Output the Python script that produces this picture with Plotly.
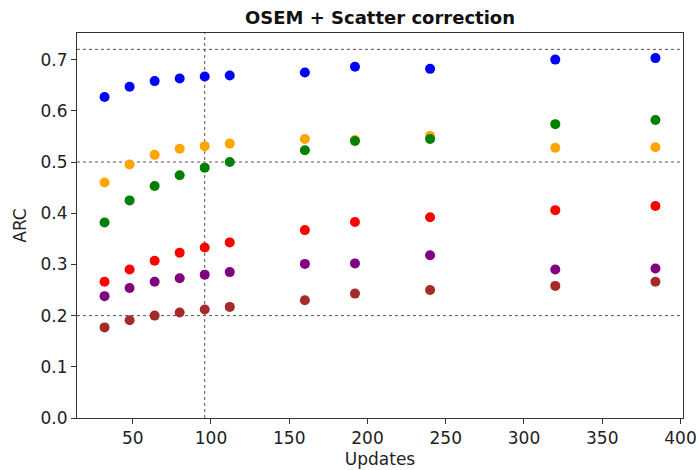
import plotly.graph_objects as go

updates = [32, 48, 64, 80, 96, 112, 160, 192, 240, 320, 384]
arc_blue = [0.627, 0.647, 0.658, 0.663, 0.667, 0.669, 0.675, 0.686, 0.682, 0.700, 0.703]
arc_orange = [0.460, 0.495, 0.514, 0.526, 0.531, 0.536, 0.545, 0.543, 0.551, 0.528, 0.529]
arc_green = [0.382, 0.425, 0.453, 0.474, 0.489, 0.500, 0.523, 0.541, 0.545, 0.574, 0.582]
arc_red = [0.266, 0.290, 0.307, 0.323, 0.333, 0.343, 0.367, 0.383, 0.392, 0.406, 0.414]
arc_purple = [0.238, 0.254, 0.266, 0.273, 0.280, 0.285, 0.301, 0.302, 0.318, 0.290, 0.292]
arc_brown = [0.177, 0.191, 0.200, 0.206, 0.212, 0.217, 0.230, 0.243, 0.250, 0.258, 0.266]

series = [
    (arc_blue, "blue"),
    (arc_orange, "orange"),
    (arc_green, "green"),
    (arc_red, "red"),
    (arc_purple, "purple"),
    (arc_brown, "brown"),
]

hlines = [0.2, 0.5, 0.72]
vlines = [96]

fig = go.Figure()
for vals, col in series:
    fig.add_trace(go.Scatter(x=updates, y=vals, mode="markers",
                             marker=dict(color=col, size=10, line=dict(width=0)),
                             showlegend=False))

for h in hlines:
    fig.add_hline(y=h, line=dict(color="#555555", width=1, dash="dot"), layer="below")
for v in vlines:
    fig.add_vline(x=v, line=dict(color="#555555", width=1, dash="dot"), layer="below")

axis_common = dict(showline=True, linecolor="#333333", linewidth=1, mirror=True,
                   ticks="outside", ticklen=5, tickcolor="#333333", showgrid=False,
                   zeroline=False, automargin=False,
                   tickfont=dict(family="DejaVu Sans", size=17, color="#222222"),
                   title_font=dict(family="DejaVu Sans", size=17, color="#222222"))

fig.update_xaxes(range=[14.4, 401.6], tickvals=[50, 100, 150, 200, 250, 300, 350, 400],
                 title_text="Updates", title_standoff=5, **axis_common)
fig.update_yaxes(range=[0, 0.752], tickvals=[0, 0.1, 0.2, 0.3, 0.4, 0.5, 0.6, 0.7],
                 tickformat=".1f", title_text="ARC", title_standoff=9, **axis_common)

fig.update_layout(
    width=699, height=470,
    margin=dict(l=77, r=16, t=33, b=52),
    paper_bgcolor="white", plot_bgcolor="white",
    title=dict(text="<b>OSEM + Scatter correction</b>", x=(77 + 683) / 2 / 699, xanchor="center",
               y=1 - 18 / 470, yanchor="middle",
               font=dict(family="DejaVu Sans", size=18, color="#111111")),
)

fig.write_html("out.html")
